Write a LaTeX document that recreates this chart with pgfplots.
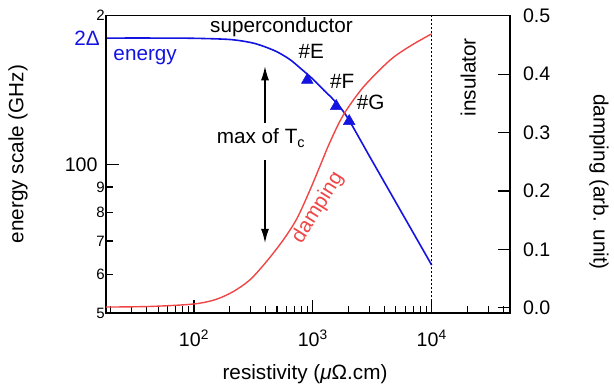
\documentclass[border=0pt]{standalone}
\usepackage{pgfplots}
\pgfplotsset{compat=1.18}
\usepackage{fontspec}
\setmainfont{Liberation Sans}
\usetikzlibrary{arrows.meta}
\definecolor{eblue}{RGB}{20,20,225}
\definecolor{dred}{RGB}{240,70,70}
\newcommand{\fs}[1]{\fontsize{#1}{#1}\selectfont}
\begin{document}
\begin{tikzpicture}
\begin{axis}[
 at={(0,0)}, anchor=south west,
 scale only axis, width=404bp, height=297.6bp,
 xmode=log, ymode=log,
 xmin=18.2, xmax=45600, ymin=50, ymax=200,
 axis line style={line width=1.6bp},
 tick align=inside,
 xtick pos=bottom, ytick pos=left,
 xtick={100,1000,10000},
 xticklabels={10\textsuperscript{2},10\textsuperscript{3},10\textsuperscript{4}},
 minor xtick={20,30,40,50,60,70,80,90,200,300,400,500,600,700,800,900,2000,3000,4000,5000,6000,7000,8000,9000,20000,30000,40000},
 ytick={100}, yticklabels={100},
 minor ytick={},
 extra y ticks={50,60,70,80,90,200},
 extra y tick labels={5,6,7,8,9,2},
 extra y tick style={major tick length=7bp, yticklabel style={font={\fs{15bp}}, xshift=7.3bp}},
 major tick length=13bp, minor tick length=7bp,
 every tick/.style={black, line width=1.2bp},
 xticklabel style={font={\fs{19.6bp}}, anchor=base, yshift=-33.4bp},
 yticklabel style={font={\fs{19.6bp}}, xshift=-5bp},
]
\addplot[eblue, line width=1.6bp, smooth] table {
18.2 180.2
50 180.2
100 180.0
200 179.0
300 176.5
383 173.5
500 169
643 163
800 156
1009 148.6
1250 141
1489 135.3
1929 125.1
3000 103.9
5000 83.8
10000 62.6
};
\addplot[eblue, only marks, mark=triangle*, mark size=6.8bp] table {
899 148.2
1574 131.2
2023 122.3
};
\draw[line width=1.3bp, -{Latex[length=14bp,width=8bp]}] (axis cs:396,121.5) -- (axis cs:396,158);
\draw[line width=1.3bp, -{Latex[length=14bp,width=8bp]}] (axis cs:396,102.2) -- (axis cs:396,69.4);
\draw[black, line width=1.5bp, dash pattern=on 2bp off 2bp] (axis cs:10000,50) -- (axis cs:10000,200);
\end{axis}
\begin{axis}[
 at={(0,0)}, anchor=south west,
 scale only axis, width=404bp, height=297.6bp,
 xmode=log, xmin=18.2, xmax=45600, ymin=-0.0095, ymax=0.5,
 hide x axis,
 axis line style={line width=1.6bp},
 ytick pos=right, tick align=inside,
 ytick={0,0.1,0.2,0.3,0.4,0.5},
 yticklabels={0.0,0.1,0.2,0.3,0.4,0.5},
 yticklabel style={font={\fs{19.6bp}}, xshift=9.5bp},
 major tick length=12bp,
 every tick/.style={black, line width=1.2bp},
]
\addplot[dred, line width=1.4bp, smooth] table {
18.2 0.0012
42.6 0.0022
98.1 0.0063
150.3 0.0137
212.9 0.0274
296.1 0.0479
409.3 0.0795
564.6 0.1162
736.2 0.1530
947.2 0.2017
1150 0.2427
1396 0.2838
1806 0.3299
2661 0.3778
4465 0.4239
6579 0.4479
10000 0.4690
};
\end{axis}
\begin{scope}[every node/.style={inner sep=0pt}]
\node[anchor=east, text=eblue, font={\fs{20.7bp}}] at (-6bp,274.6bp) {2Δ};
\node[anchor=base west, text=eblue, font={\fs{20.7bp}}] at (7.3bp,252.3bp) {energy};
\node[anchor=base west, font={\fs{20.7bp}}] at (104bp,280.6bp) {superconductor};
\node[anchor=base west, font={\fs{20.7bp}}] at (192.3bp,255bp) {\#E};
\node[anchor=base west, font={\fs{20.7bp}}] at (224bp,225bp) {\#F};
\node[anchor=base west, font={\fs{20.7bp}}] at (250.7bp,203.3bp) {\#G};
\node[anchor=base west, font={\fs{20.7bp}}] at (110.7bp,169.3bp) {max of T\textsubscript{c}};
\node[rotate=90, font={\fs{20.7bp}}] at (362.3bp,236bp) {insulator};
\node[rotate=58, text=dred, font={\fs{20.7bp}}] at (212bp,105.6bp) {damping};
\node[rotate=90, font={\fs{20.7bp}}] at (-88bp,159.3bp) {energy scale (GHz)};
\node[rotate=-90, font={\fs{20.7bp}}] at (493bp,131.3bp) {damping (arb. unit)};
\node[anchor=base, font={\fs{20.7bp}}] at (199bp,-65.7bp) {resistivity (\textit{μ}Ω.cm)};
\end{scope}
\pgfresetboundingbox
\path (-106bp,-73.7bp) rectangle (508bp,313.3bp);
\end{tikzpicture}
\end{document}
